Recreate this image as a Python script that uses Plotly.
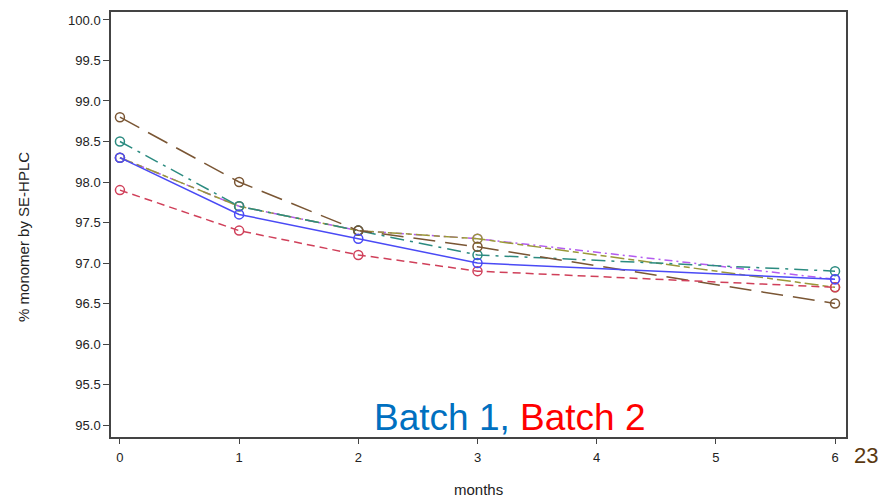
import plotly.graph_objects as go

# Stability time points (months) and % monomer by SE-HPLC per lot
months = [0, 1, 2, 3, 6]
lot_a = [98.3, 97.6, 97.3, 97.0, 96.8]   # blue solid
lot_b = [97.9, 97.4, 97.1, 96.9, 96.7]   # red dashed
lot_c = [98.5, 97.7, 97.4, 97.1, 96.9]   # teal dash-dot
lot_d = [98.8, 98.0, 97.4, 97.2, 96.5]   # brown long dash
lot_e = [98.3, 97.7, 97.4, 97.3, 96.7]   # olive
lot_f = [98.3, 97.7, 97.4, 97.3, 96.8]   # purple

y_ticks = [95.0, 95.5, 96.0, 96.5, 97.0, 97.5, 98.0, 98.5, 99.0, 99.5, 100.0]
x_ticks = [0, 1, 2, 3, 4, 5, 6]

series = [
    (lot_f, "#b45cf0", "8px,4px,2px,4px"),
    (lot_e, "#9a9838", "14px,4px,6px,4px"),
    (lot_c, "#2b8b80", "14px,6px,3px,6px"),
    (lot_d, "#7a5634", "22px,10px"),
    (lot_b, "#d0405a", "8px,5px"),
    (lot_a, "#4a4af5", "solid"),
]

fig = go.Figure()
for vals, color, dash in series:
    fig.add_trace(go.Scatter(
        x=months, y=vals, mode="lines+markers",
        line=dict(color=color, width=1.5, dash=dash),
        marker=dict(symbol="circle-open", size=9, color=color,
                    line=dict(width=1.5, color=color)),
        showlegend=False,
    ))

FONT = "Liberation Sans, Arial, sans-serif"
axis_font = dict(family=FONT, size=13, color="#222222")

fig.update_layout(
    width=881, height=498,
    margin=dict(l=111, r=35, t=10, b=61),
    plot_bgcolor="white", paper_bgcolor="white",
    xaxis=dict(
        range=[-0.075, 6.092], tickvals=x_ticks, ticktext=[str(v) for v in x_ticks],
        showline=True, linecolor="#444444", linewidth=1.5, mirror=True,
        ticks="outside", ticklen=5, tickcolor="#444444", tickwidth=1.3,
        ticklabelstandoff=3,
        showgrid=False, zeroline=False, tickfont=axis_font,
    ),
    yaxis=dict(
        range=[94.853, 100.098], tickvals=y_ticks,
        ticktext=[f"{v:.1f}" for v in y_ticks],
        showline=True, linecolor="#444444", linewidth=1.5, mirror=True,
        ticks="outside", ticklen=6, tickcolor="#444444", tickwidth=1.3,
        showgrid=False, zeroline=False, tickfont=axis_font,
    ),
)

# Axis titles
fig.add_annotation(
    x=(24 - 111) / 735, y=(437 - 236) / 427, xref="paper", yref="paper",
    xanchor="center", yanchor="middle", showarrow=False,
    text="% monomer by SE-HPLC", textangle=-90,
    font=dict(family=FONT, size=15, color="#222222"),
)
fig.add_annotation(
    x=(478 - 111) / 735, y=(437 - 490) / 427, xref="paper", yref="paper",
    xanchor="center", yanchor="middle", showarrow=False,
    text="months", font=dict(family=FONT, size=15, color="#222222"),
)

fig.add_annotation(
    x=(510 - 111) / 735, y=0.0, xref="paper", yref="paper",
    xanchor="center", yanchor="bottom", showarrow=False, yshift=-3,
    text="<span style='color:#0070c0'>Batch 1, </span><span style='color:#ff0000'>Batch 2</span>",
    font=dict(family=FONT, size=37),
)
fig.add_annotation(
    x=1.0, y=0.0, xref="paper", yref="paper", xanchor="left", yanchor="top",
    showarrow=False, xshift=6, yshift=-4,
    text="23", font=dict(family=FONT, size=22, color="#5a3810"),
)

fig.write_html("out.html")
